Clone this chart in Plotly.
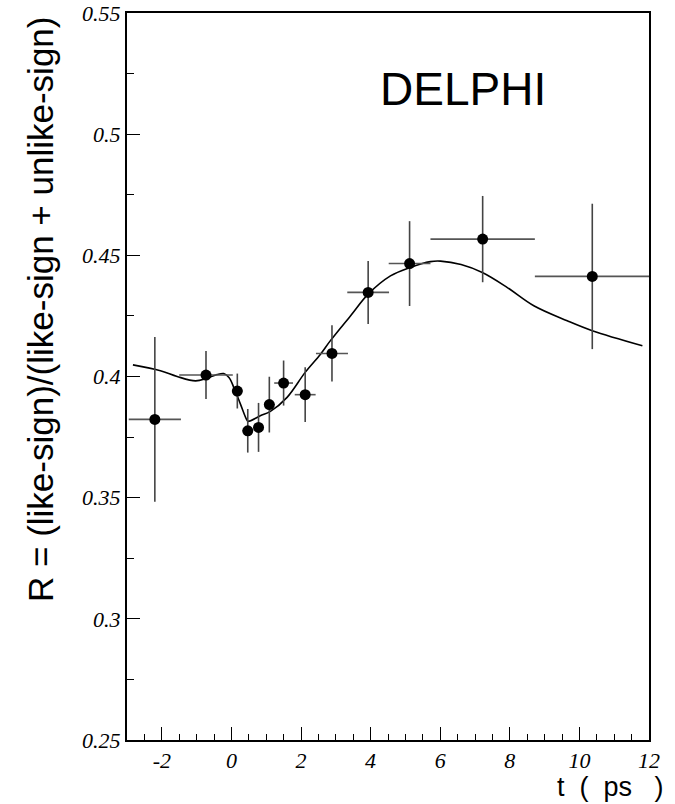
import plotly.graph_objects as go

# Data points (t in ps, R)
t_pts = [-2.2, -0.73, 0.17, 0.47, 0.78, 1.09, 1.50, 2.12, 2.89, 3.93, 5.12, 7.22, 10.37]
r_pts = [0.3823, 0.4006, 0.3940, 0.3776, 0.3790, 0.3884, 0.3973, 0.3925, 0.4095, 0.4347, 0.4466, 0.4567, 0.4413]
r_err = [0.034, 0.0099, 0.0072, 0.0090, 0.0101, 0.0115, 0.0093, 0.0113, 0.0116, 0.0130, 0.0175, 0.0178, 0.0300]
t_err = [0.75, 0.77, 0.15, 0.15, 0.15, 0.15, 0.27, 0.30, 0.46, 0.60, 0.60, 1.50, 1.65]

# Fitted curve
t_fit = [-2.83, -2.04, -1.56, -1.03, -0.70, -0.41, -0.22, -0.07, 0.07, 0.26, 0.455, 0.49,
         0.83, 1.12, 1.60, 2.12, 2.56, 2.84, 3.42, 3.93, 4.57, 5.12, 5.72, 6.01,
         6.60, 7.21, 7.93, 8.69, 9.65, 10.37, 11.81]
r_fit = [0.4048, 0.4024, 0.4000, 0.3982, 0.3993, 0.4008, 0.4012, 0.3996, 0.3955, 0.3886, 0.3818, 0.3815,
         0.3838, 0.3856, 0.3914, 0.4017, 0.4092, 0.4147, 0.4250, 0.4340, 0.4415, 0.4449, 0.4474, 0.4476,
         0.4462, 0.4429, 0.4367, 0.4292, 0.4230, 0.4189, 0.4127]

x_ticks = [-2, 0, 2, 4, 6, 8, 10, 12]
y_ticks = [0.25, 0.3, 0.35, 0.4, 0.45, 0.5, 0.55]

fig = go.Figure()
fig.add_trace(go.Scatter(x=t_fit, y=r_fit, mode="lines",
                         line=dict(color="black", width=1.6, shape="spline", smoothing=1.0),
                         hoverinfo="skip", showlegend=False))
fig.add_trace(go.Scatter(
    x=t_pts, y=r_pts, mode="markers",
    marker=dict(color="black", size=11),
    error_y=dict(type="data", array=r_err, color="#444", thickness=1.6, width=0),
    error_x=dict(type="data", array=t_err, color="#555", thickness=1.6, width=0),
    showlegend=False))

axis_font = dict(family="Liberation Serif", size=22, color="black", style="italic")
fig.update_xaxes(range=[-3, 12], tickvals=x_ticks, ticktext=[str(v) for v in x_ticks],
                 ticks="inside", ticklen=13, tickwidth=1.2, tickcolor="black",
                 minor=dict(dtick=0.5, tick0=0, ticks="inside", ticklen=6, tickcolor="black", tickwidth=1.2),
                 showline=True, linecolor="black", linewidth=2, mirror=True, showgrid=False, zeroline=False,
                 tickfont=axis_font, automargin=False)
fig.update_yaxes(range=[0.25, 0.55], tickvals=y_ticks, ticktext=[f"{v:g}" for v in y_ticks],
                 ticks="inside", ticklen=13, tickwidth=1.2, tickcolor="black",
                 minor=dict(dtick=0.025, tick0=0.25, ticks="inside", ticklen=7, tickcolor="black", tickwidth=1.2),
                 showline=True, linecolor="black", linewidth=2, mirror=True, showgrid=False, zeroline=False,
                 tickfont=axis_font, automargin=False)

fig.add_annotation(x=(463 - 127) / 522, y=(740 - 89) / 727, xref="paper", yref="paper", text="DELPHI",
                   showarrow=False, xanchor="center", yanchor="middle",
                   font=dict(family="Liberation Sans Narrow, Liberation Sans", size=46, color="black"))
fig.add_annotation(x=(40 - 127) / 522, y=(740 - 310) / 727, xref="paper", yref="paper",
                   text="R = (like-sign)/(like-sign + unlike-sign)", textangle=-90, showarrow=False,
                   xanchor="center", yanchor="middle",
                   font=dict(family="Liberation Sans", size=35, color="black"))
fig.add_annotation(x=(610 - 127) / 522, y=-(787 - 740) / 727, xref="paper", yref="paper",
                   text="t\u00a0\u00a0(\u00a0\u00a0ps\u00a0\u00a0\u00a0)", showarrow=False,
                   xanchor="center", yanchor="middle",
                   font=dict(family="Liberation Sans", size=27, color="black"))

fig.update_layout(width=675, height=804, margin=dict(l=127, r=26, t=13, b=64),
                  plot_bgcolor="white", paper_bgcolor="white")
fig.write_html("out.html")
